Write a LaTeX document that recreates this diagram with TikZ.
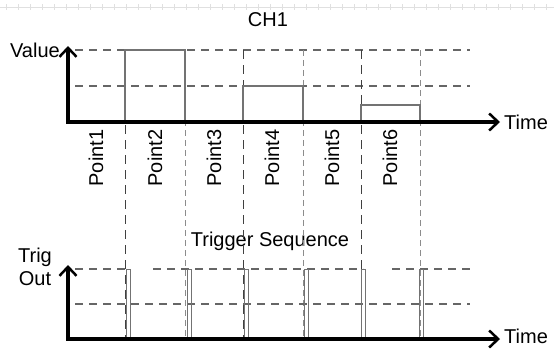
\documentclass[tikz,border=0pt]{standalone}
\usepackage{fontspec}
\setmainfont{Liberation Sans}
\usetikzlibrary{arrows.meta}
\begin{document}
\begin{tikzpicture}[x=1pt,y=-1pt,
  lbl/.style={font=\fontsize{20}{23}\selectfont, inner sep=0pt},
  axis/.style={line width=3.5pt, black, -{Straight Barb[length=9pt,width=17pt,line width=2.5pt]}},
  hdash/.style={line width=1.2pt, black!60, dash pattern=on 8pt off 6pt},
  vdashk/.style={line width=0.9pt, black!75, dash pattern=on 9pt off 6pt},
  vdashg/.style={line width=0.8pt, black!45, dash pattern=on 6pt off 4pt},
  sig/.style={line width=1.2pt, black!55},
  pulse/.style={line width=1pt, black!55}]
\useasboundingbox (0,0) rectangle (554,349);
% faint ruler at top
\draw[black!12, line width=0.6pt] (0,7) -- (554,7);
\foreach \t in {6,18,...,554} \draw[black!12, line width=0.6pt] (\t,4) -- (\t,10);
% titles
\node[lbl] (ch1) at (268,20) {CH1};
\node[lbl] (trs) at (270,241) {Trigger Sequence};
% upper grid
\draw[hdash] (75,50) -- (470,50);
\draw[hdash] (75,86) -- (470,86);
% vertical separators
\foreach \x in {125,243,361} \draw[vdashk] (\x,50) -- (\x,339);
\foreach \x in {185,303,420} \draw[vdashg] (\x,50) -- (\x,339);
% upper signal
\draw[sig] (68,122) -- (125,122) -- (125,50) -- (185,50) -- (185,122) -- (243,122) -- (243,86) -- (303,86) -- (303,122) -- (361,122) -- (361,105) -- (420,105) -- (420,122) -- (470,122);
% upper axes
\coordinate (o1) at (68,122);
\coordinate (y1) at (68,46);
\coordinate (x1) at (500,122);
\draw[axis] (o1) -- (y1);
\draw[axis] ([xshift=-1.75pt]o1) -- (x1);
\node[lbl, anchor=east] (val) at (60,50) {Value};
\node[lbl, anchor=west] (t1) at (504,122) {Time};
% point labels
\foreach \x/\n in {96/1,155/2,214/3,272/4,332/5,390/6}
  \node[lbl, rotate=90] (p\n) at (\x,158) {Point\n};
% lower grid
\draw[hdash] (75,269) -- (130,269);
\draw[hdash] (153,269) -- (363,269);
\draw[hdash] (392,269) -- (470,269);
\draw[hdash] (75,304) -- (470,304);
% pulses
\foreach \x in {126,187,244,304,361,419}
  \draw[pulse] (\x,339) -- (\x,269) -- (\x+4,269) -- (\x+4,339);
\draw[pulse] (68,337) -- (470,337);
% lower axes
\coordinate (o2) at (68,339);
\coordinate (y2) at (68,265);
\coordinate (x2) at (500,339);
\draw[axis] (o2) -- (y2);
\draw[axis] ([xshift=-1.75pt]o2) -- (x2);
\node[lbl, align=center] (trig) at (35,267) {Trig\\Out};
\node[lbl, anchor=west] (t2) at (504,336) {Time};
\end{tikzpicture}
\end{document}
